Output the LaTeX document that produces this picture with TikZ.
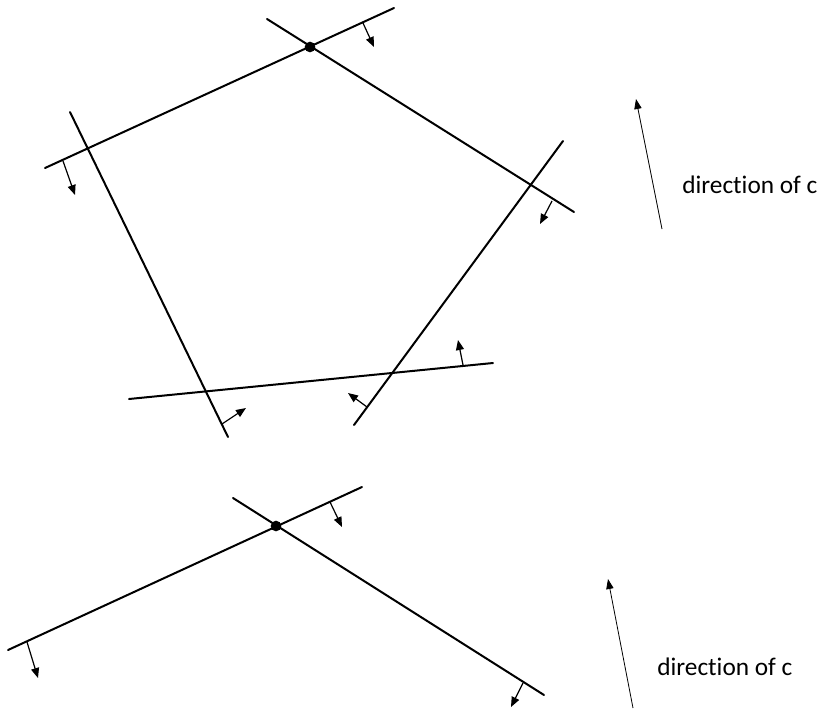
\documentclass[tikz,border=0pt]{standalone}
\usepackage{fontspec}
\setmainfont[Ligatures=NoCommon]{Carlito}
\usetikzlibrary{arrows.meta}
\tikzset{
  cline/.style={line width=1.5pt, line cap=round},
  nrm/.style={line width=0.9pt, -{Triangle[length=7.5pt,width=6pt]}},
  dirc/.style={line width=0.6pt, -{Triangle[length=7.5pt,width=5.5pt]}},
  vdot/.style={circle, fill=black, inner sep=0pt, minimum size=8pt},
  lbl/.style={anchor=base west, inner sep=0pt, font=\fontsize{19}{21}\selectfont}
}
\begin{document}
\begin{tikzpicture}[x=0.75pt,y=-0.75pt]
\useasboundingbox (0,0) rectangle (818,708);
% ---- top figure ----
\coordinate (A1) at (45,168);  \coordinate (A2) at (394,8);
\coordinate (B1) at (267,19);  \coordinate (B2) at (574,212);
\coordinate (C1) at (70,112);  \coordinate (C2) at (228,437);
\coordinate (D1) at (129,399); \coordinate (D2) at (493,363);
\coordinate (E1) at (563,141); \coordinate (E2) at (354,425);
\draw[cline] (A1) -- (A2);
\draw[cline] (B1) -- (B2);
\draw[cline] (C1) -- (C2);
\draw[cline] (D1) -- (D2);
\draw[cline] (E1) -- (E2);
\node[vdot] (v1) at (310,47) {};
% normal arrows
\coordinate (a1s) at (63,161);  \coordinate (a1e) at (75,195);
\coordinate (a2s) at (363,23);  \coordinate (a2e) at (374,47);
\coordinate (b1s) at (552,201); \coordinate (b1e) at (540,224);
\coordinate (c1s) at (222,424); \coordinate (c1e) at (246,408);
\coordinate (d1s) at (463,365); \coordinate (d1e) at (458,340);
\coordinate (e1s) at (367,407); \coordinate (e1e) at (348,393);
\draw[nrm] (a1s) -- (a1e);
\draw[nrm] (a2s) -- (a2e);
\draw[nrm] (b1s) -- (b1e);
\draw[nrm] (c1s) -- (c1e);
\draw[nrm] (d1s) -- (d1e);
\draw[nrm] (e1s) -- (e1e);
% direction of c
\coordinate (ct1) at (662,229); \coordinate (ct2) at (636,99);
\draw[dirc] (ct1) -- (ct2);
\node[lbl] (t1) at (682,193) {direction of c};
% ---- bottom figure ----
\coordinate (F1) at (8,650);   \coordinate (F2) at (362,487);
\coordinate (G1) at (233,498); \coordinate (G2) at (544,695);
\draw[cline] (F1) -- (F2);
\draw[cline] (G1) -- (G2);
\node[vdot] (v2) at (276,526) {};
\coordinate (f1s) at (27,642);  \coordinate (f1e) at (38,678);
\coordinate (f2s) at (330,502); \coordinate (f2e) at (342,527);
\coordinate (g1s) at (523,683); \coordinate (g1e) at (511,707);
\draw[nrm] (f1s) -- (f1e);
\draw[nrm] (f2s) -- (f2e);
\draw[nrm] (g1s) -- (g1e);
\coordinate (cb1) at (633,708); \coordinate (cb2) at (608,579);
\draw[dirc] (cb1) -- (cb2);
\node[lbl] (t2) at (657,675) {direction of c};
\end{tikzpicture}
\end{document}
